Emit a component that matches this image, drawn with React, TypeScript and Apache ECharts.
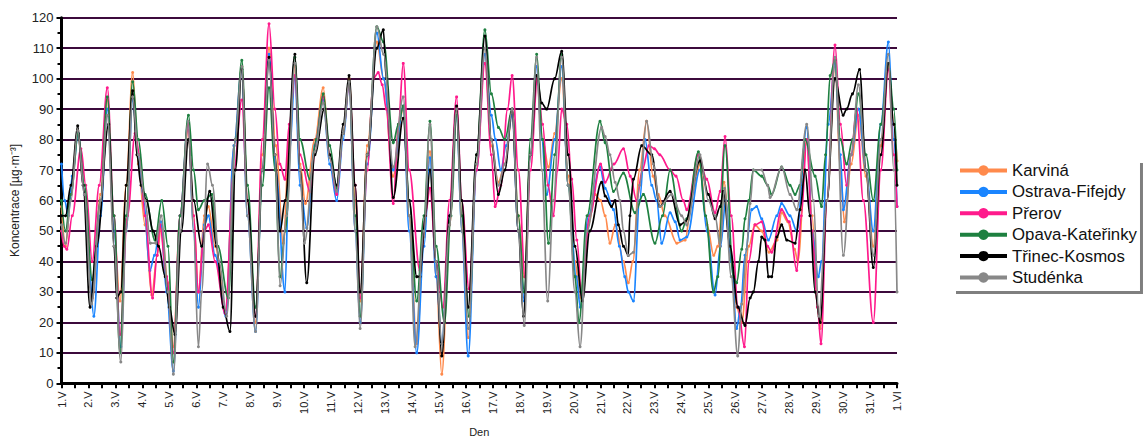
import React, { useEffect, useRef } from "react";
import * as echarts from "echarts";

const dayLabels: string[] = [
  "1.V","2.V","3.V","4.V","5.V","6.V","7.V","8.V","9.V","10.V","11.V","12.V","13.V","14.V","15.V","16.V",
  "17.V","18.V","19.V","20.V","21.V","22.V","23.V","24.V","25.V","26.V","27.V","28.V","29.V","30.V","31.V","1.VI",
];

const seriesNames = ["Karviná", "Ostrava-Fifejdy", "Přerov", "Opava-Kateřinky", "Třinec-Kosmos", "Studénka"];
const seriesColors = ["#FF8A4C", "#1A85FF", "#FF1A8C", "#1E8040", "#000000", "#888888"];

// [day offset from 1.V, concentration]
const karvina: number[][] = [
  [0,58],[0.15,45],[0.35,62],[0.6,83],[0.85,62],[1.15,28],[1.45,62],[1.7,93],[1.95,50],[2.17,27],[2.4,65],[2.64,102],[2.85,72],[3.1,52],[3.35,29],[3.55,42],[3.7,52],[3.95,33],[4.15,12],[4.4,55],[4.7,83],[4.9,55],[5.08,30],[5.3,55],[5.45,58],[5.7,45],[6.1,24],[6.4,78],[6.69,104],[6.9,60],[7.2,20],[7.45,75],[7.7,110],[7.95,78],[8.23,46],[8.45,80],[8.66,104],[8.85,72],[9.05,59],[9.4,80],[9.71,97],[9.95,75],[10.21,62],[10.45,82],[10.67,100],[10.9,60],[11.08,27],[11.35,78],[11.7,112],[11.95,100],[12.3,68],[12.68,90],[12.9,55],[13.18,13],[13.45,48],[13.67,76],[13.9,35],[14.11,3],[14.4,52],[14.66,90],[14.85,55],[15.09,15],[15.4,72],[15.71,108],[15.95,78],[16.21,66],[16.45,72],[16.72,88],[16.95,55],[17.17,35],[17.4,75],[17.63,100],[17.85,80],[18.07,71],[18.3,82],[18.56,100],[18.8,68],[19.05,40],[19.25,28],[19.55,52],[19.8,62],[20.0,60],[20.17,55],[20.35,46],[20.55,52],[20.85,40],[21.03,33],[21.2,40],[21.45,70],[21.71,86],[21.95,68],[22.14,62],[22.39,55],[22.83,46],[23.14,47],[23.4,62],[23.69,72],[23.95,52],[24.2,42],[24.35,45],[24.58,66],[24.85,40],[25.05,25],[25.24,20],[25.5,45],[25.73,52],[25.98,50],[26.25,43],[26.55,47],[26.72,56],[26.95,53],[27.2,44],[27.32,40],[27.65,80],[27.85,55],[28.05,25],[28.15,18],[28.4,60],[28.7,104],[28.9,70],[29.05,53],[29.3,72],[29.57,88],[29.85,68],[30.12,45],[30.4,78],[30.68,104],[30.88,85],[31,73],
];
const ostrava: number[][] = [
  [0,72],[0.12,60],[0.25,55],[0.4,68],[0.62,82],[0.85,62],[1.0,40],[1.2,22],[1.45,55],[1.7,90],[1.95,50],[2.2,12],[2.4,50],[2.64,93],[2.85,75],[3.05,60],[3.28,37],[3.45,42],[3.68,53],[3.9,30],[4.15,4],[4.4,55],[4.7,86],[4.9,50],[5.08,25],[5.3,52],[5.45,55],[5.7,42],[6.1,22],[6.4,78],[6.68,103],[6.9,55],[7.2,17],[7.45,70],[7.7,108],[7.95,70],[8.29,30],[8.45,75],[8.66,100],[8.85,65],[9.1,51],[9.4,78],[9.71,93],[9.95,72],[10.21,60],[10.45,80],[10.67,98],[10.9,50],[11.08,20],[11.35,72],[11.7,115],[11.95,100],[12.31,70],[12.68,91],[12.9,50],[13.18,10],[13.45,45],[13.67,74],[13.9,35],[14.11,13],[14.4,55],[14.66,88],[14.85,50],[15.09,9],[15.4,70],[15.71,108],[15.95,88],[16.1,80],[16.3,70],[16.5,78],[16.72,88],[16.95,50],[17.17,27],[17.4,75],[17.63,104],[17.82,80],[18.0,62],[18.3,80],[18.56,104],[18.8,65],[19.1,35],[19.25,25],[19.55,55],[19.98,71],[20.17,64],[20.48,57],[20.7,45],[20.9,35],[21.03,30],[21.22,27],[21.45,60],[21.65,80],[21.9,65],[22.08,60],[22.27,46],[22.58,56],[22.77,53],[22.95,47],[23.2,48],[23.69,70],[23.95,50],[24.25,29],[24.45,45],[24.65,60],[24.85,40],[25.05,18],[25.2,25],[25.36,42],[25.61,57],[25.79,58],[25.98,54],[26.23,47],[26.54,55],[26.72,59],[27.03,55],[27.28,50],[27.65,84],[27.85,50],[28.08,35],[28.2,40],[28.45,85],[28.7,105],[28.9,75],[29.01,57],[29.3,75],[29.57,90],[29.85,70],[30.12,50],[30.4,85],[30.68,112],[30.88,80],[31,58],
];
const prerov: number[][] = [
  [0,50],[0.1,45],[0.2,44],[0.4,55],[0.72,77],[0.9,65],[1.14,40],[1.4,65],[1.7,97],[1.95,55],[2.17,16],[2.45,55],[2.73,82],[2.9,75],[3.1,55],[3.38,28],[3.55,42],[3.65,52],[3.9,35],[4.15,10],[4.4,55],[4.7,85],[4.9,55],[5.08,30],[5.3,50],[5.45,52],[5.7,40],[6.07,23],[6.4,70],[6.69,93],[6.9,60],[7.2,22],[7.45,80],[7.7,118],[7.92,90],[8.1,72],[8.29,67],[8.45,85],[8.66,101],[8.85,75],[9.22,63],[9.45,80],[9.71,94],[9.95,75],[10.21,62],[10.45,82],[10.67,98],[10.9,65],[11.08,28],[11.35,70],[11.57,100],[11.75,102],[11.9,98],[12.05,90],[12.31,59],[12.5,85],[12.68,105],[12.9,70],[13.3,37],[13.5,55],[13.67,64],[13.9,40],[14.15,25],[14.4,60],[14.66,94],[14.85,60],[15.12,31],[15.4,70],[15.71,105],[15.95,75],[16.09,58],[16.3,65],[16.55,90],[16.72,101],[16.95,70],[17.2,35],[17.4,70],[17.66,100],[17.85,85],[18.05,65],[18.25,55],[18.4,70],[18.56,90],[18.75,85],[18.93,67],[19.12,47],[19.3,29],[19.6,55],[20.0,72],[20.17,66],[20.5,72],[20.85,77],[21.1,68],[21.34,60],[21.55,70],[21.8,78],[22.0,77],[22.2,75],[22.58,70],[22.8,68],[23.07,60],[23.2,57],[23.63,75],[23.94,67],[24.25,56],[24.44,63],[24.62,81],[24.85,55],[25.1,25],[25.34,12],[25.5,40],[25.73,52],[25.98,53],[26.2,45],[26.35,43],[26.72,57],[27.0,53],[27.28,37],[27.45,55],[27.65,80],[27.85,50],[28.05,25],[28.18,13],[28.4,60],[28.7,111],[28.9,85],[29.13,65],[29.3,75],[29.5,90],[29.75,60],[30.12,20],[30.4,70],[30.68,103],[30.88,75],[31,58],
];
const opava: number[][] = [
  [0,60],[0.15,50],[0.35,62],[0.62,82],[0.85,65],[1.14,34],[1.45,60],[1.7,94],[1.95,55],[2.17,10],[2.4,55],[2.64,99],[2.85,80],[3.1,62],[3.47,47],[3.72,60],[3.95,45],[4.15,7],[4.4,55],[4.71,88],[4.9,70],[5.08,57],[5.3,60],[5.57,62],[5.8,45],[6.19,28],[6.45,80],[6.69,106],[6.9,65],[7.2,25],[7.45,65],[7.7,97],[7.92,70],[8.11,35],[8.3,50],[8.66,107],[8.85,80],[9.22,67],[9.45,80],[9.71,95],[9.95,78],[10.21,64],[10.45,82],[10.67,99],[10.9,55],[11.08,22],[11.35,75],[11.7,117],[11.95,112],[12.31,79],[12.5,85],[12.68,91],[12.9,60],[13.18,27],[13.45,55],[13.67,86],[13.9,45],[14.21,20],[14.45,55],[14.66,88],[14.85,55],[15.12,22],[15.4,75],[15.71,116],[15.95,95],[16.21,84],[16.45,80],[16.72,90],[16.95,55],[17.17,30],[17.4,80],[17.63,108],[17.85,80],[18.07,46],[18.3,75],[18.56,108],[18.8,65],[19.05,35],[19.2,20],[19.5,55],[19.98,86],[20.17,79],[20.48,63],[20.85,69],[21.28,56],[21.59,62],[22.02,46],[22.3,55],[22.58,70],[23.01,50],[23.2,54],[23.63,76],[23.9,55],[24.19,30],[24.35,35],[24.62,78],[24.93,35],[25.05,33],[25.24,44],[25.36,54],[25.5,60],[25.67,70],[25.98,68],[26.2,65],[26.35,62],[26.72,71],[27.03,65],[27.22,62],[27.4,65],[27.59,80],[27.96,68],[28.2,58],[28.35,75],[28.52,101],[28.7,106],[28.9,80],[29.13,72],[29.35,80],[29.57,95],[29.85,75],[30.12,60],[30.4,85],[30.68,105],[30.88,90],[31,70],
];
const trinec: number[][] = [
  [0,55],[0.15,55],[0.35,65],[0.6,84.5],[0.8,65],[1.06,25],[1.3,45],[1.75,85],[1.95,45],[2.05,28],[2.2,30],[2.4,65],[2.64,96],[2.8,75],[2.95,65],[3.15,60],[3.4,50],[3.6,45],[3.85,35],[4.0,25],[4.21,16],[4.45,50],[4.71,80],[4.9,60],[5.2,45],[5.5,63],[5.75,45],[6.0,25],[6.25,17],[6.45,70],[6.69,103],[6.9,60],[7.2,22],[7.45,70],[7.7,107],[7.92,75],[8.11,50],[8.3,60],[8.66,108],[8.85,70],[9.1,33],[9.4,75],[9.75,90],[9.95,75],[10.21,65],[10.45,85],[10.67,101],[10.9,65],[11.08,30],[11.35,75],[11.7,110],[11.94,116],[12.05,100],[12.31,61],[12.68,87],[12.9,60],[13.18,35],[13.3,35],[13.5,55],[13.67,70],[13.9,40],[14.11,9],[14.4,55],[14.66,91],[14.85,60],[15.09,25],[15.4,75],[15.71,114],[15.95,80],[16.21,62],[16.45,70],[16.72,90],[16.95,50],[17.14,22],[17.4,75],[17.63,101],[17.82,92],[18.0,90],[18.3,100],[18.56,109],[18.8,75],[19.05,45],[19.33,27],[19.6,50],[20.04,66],[20.17,61.5],[20.41,58],[20.54,60],[20.66,52],[20.85,45],[21.03,42],[21.09,55],[21.22,67],[21.53,78],[21.9,75],[22.2,58],[22.58,63],[22.95,52],[23.14,53],[23.69,73],[24.0,62],[24.25,54],[24.44,58],[24.56,63],[24.8,45],[25.1,25],[25.36,19],[25.55,28],[25.67,30],[25.86,40],[25.98,48],[26.1,47],[26.23,35],[26.35,35],[26.54,48],[26.72,52],[26.91,47],[27.22,46],[27.4,57],[27.59,70],[27.77,55],[27.96,30],[28.15,20],[28.4,60],[28.7,100],[29.0,88],[29.13,90],[29.35,95],[29.61,103],[29.85,70],[30.12,38],[30.4,75],[30.68,105],[30.88,85],[31,65],
];
const studenka: number[][] = [
  [0,52],[0.15,46],[0.35,60],[0.6,83],[0.85,62],[1.12,26],[1.45,60],[1.7,88],[1.95,45],[2.2,7],[2.4,50],[2.64,94],[2.85,75],[3.1,60],[3.3,46],[3.5,46],[3.7,55],[3.95,30],[4.15,3],[4.4,50],[4.7,86],[4.9,50],[5.08,12],[5.2,30],[5.42,72],[5.6,65],[5.85,40],[6.13,22],[6.45,80],[6.69,104],[6.9,55],[7.2,17],[7.45,70],[7.7,106],[7.92,75],[8.11,32],[8.35,55],[8.66,105],[8.85,70],[9.01,46],[9.4,76],[9.71,92],[9.95,74],[10.21,63],[10.45,82],[10.67,99],[10.9,50],[11.08,18],[11.35,75],[11.7,117],[11.95,108],[12.31,71],[12.68,94],[12.9,55],[13.12,12],[13.45,50],[13.67,85],[13.9,40],[14.11,13],[14.4,52],[14.66,90],[14.85,50],[15.1,18],[15.4,72],[15.71,110],[15.95,80],[16.21,65],[16.45,72],[16.72,90],[16.95,50],[17.17,19],[17.4,75],[17.63,107],[17.82,70],[18.04,27],[18.25,60],[18.56,107],[18.8,65],[19.05,30],[19.24,12],[19.5,50],[20.04,84],[20.17,81],[20.35,75],[20.54,66],[20.72,60],[20.85,50],[21.03,42],[21.22,43],[21.45,65],[21.71,86],[21.96,72],[22.2,58],[22.64,62],[23.01,55],[23.2,52],[23.69,75],[24.0,60],[24.25,55],[24.44,45],[24.6,64],[24.85,35],[25.09,9],[25.24,26],[25.42,44],[25.55,59],[25.67,70],[25.98,70],[26.2,65],[26.29,61],[26.72,71],[27.03,62],[27.28,57],[27.65,85],[27.9,60],[28.1,22],[28.4,60],[28.7,107],[29.01,42],[29.3,75],[29.57,98],[29.85,70],[30.12,42],[30.4,80],[30.68,108],[30.88,70],[31,30],
];

const allData = [karvina, ostrava, prerov, opava, trinec, studenka];

const FONT = 'Arial, "Liberation Sans", Helvetica, sans-serif';

export default function App() {
  const ref = useRef<HTMLDivElement>(null);
  useEffect(() => {
    if (!ref.current) return;
    const chart = echarts.init(ref.current, null, { renderer: "svg" });
    chart.setOption({
      animation: false,
      backgroundColor: "#ffffff",
      textStyle: { fontFamily: FONT },
      grid: {
        left: 61.5,
        right: 246,
        top: 17.7,
        bottom: 58.7,
        containLabel: false,
        outerBoundsMode: "none",
      },
      legend: {
        orient: "vertical",
        left: 953,
        top: 160,
        padding: [2, 3, 5, 5],
        itemWidth: 47,
        itemHeight: 13,
        itemGap: 4.4,
        backgroundColor: "#ffffff",
        shadowColor: "rgba(0,0,0,0.5)",
        shadowBlur: 1,
        shadowOffsetX: 3,
        shadowOffsetY: 3,
        textStyle: { fontSize: 16.8, color: "#111", fontFamily: FONT },
        data: seriesNames,
        itemStyle: { borderWidth: 0 },
        lineStyle: { width: 4 },
      },
      xAxis: {
        type: "value",
        min: 0,
        max: 31,
        interval: 1,
        name: "Den",
        nameLocation: "middle",
        nameGap: 43,
        nameTextStyle: { fontSize: 11, color: "#222", fontFamily: FONT },
        axisLine: { show: true, onZero: false, lineStyle: { color: "#000", width: 3 } },
        axisTick: { show: true, length: 5, lineStyle: { color: "#000", width: 2 } },
        minorTick: { show: true, splitNumber: 2, length: 5, lineStyle: { color: "#000", width: 2 } },
        axisLabel: {
          rotate: 90,
          fontSize: 11,
          color: "#222",
          margin: 8,
          fontFamily: FONT,
          formatter: (v: number) => dayLabels[Math.round(v)] ?? "",
        },
        splitLine: { show: false },
      },
      yAxis: {
        type: "value",
        min: 0,
        max: 120,
        interval: 10,
        name: "Koncentrace [µg·m⁻³]",
        nameLocation: "middle",
        nameGap: 35,
        nameRotate: 90,
        nameTextStyle: { fontSize: 12, color: "#222", fontFamily: FONT },
        axisLine: { show: true, lineStyle: { color: "#000", width: 3 } },
        axisTick: { show: true, length: 5, lineStyle: { color: "#000", width: 2 } },
        minorTick: { show: true, splitNumber: 2, length: 4, lineStyle: { color: "#000", width: 2 } },
        axisLabel: { fontSize: 13, color: "#222", margin: 8, fontFamily: FONT },
        splitLine: { show: true, lineStyle: { color: "#3C0A3C", width: 2 } },
      },
      series: seriesNames.map((name, i) => ({
        name,
        type: "line",
        data: allData[i],
        smooth: 0.35,
        smoothMonotone: "x",
        symbol: "circle",
        symbolSize: 3,
        showSymbol: true,
        color: seriesColors[i],
        lineStyle: { width: 1.7, color: seriesColors[i] },
        itemStyle: { color: seriesColors[i] },
        z: 2 + i,
      })),
    });
    return () => chart.dispose();
  }, []);
  return (
    <div
      ref={ref}
      style={{ position: "absolute", left: 0, top: 0, width: 1143, height: 442, background: "#fff" }}
    />
  );
}
